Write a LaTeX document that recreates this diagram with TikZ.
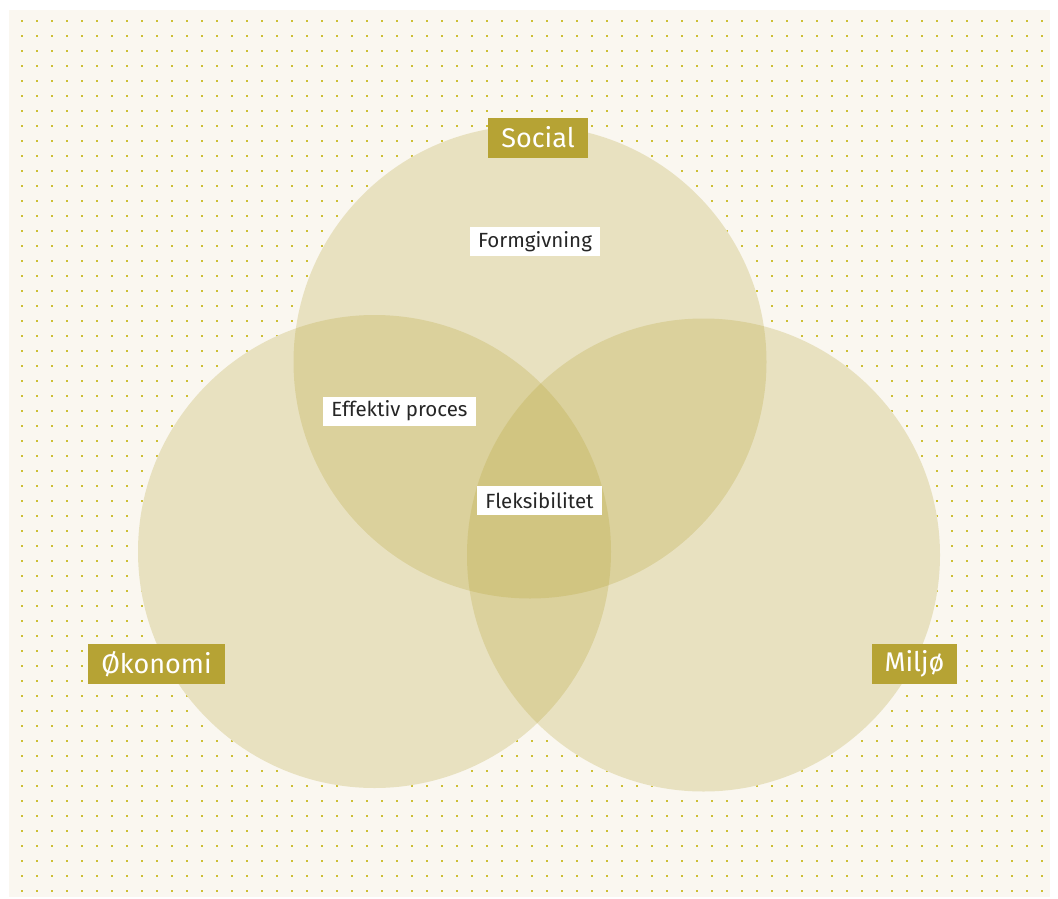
\documentclass[tikz,border=0pt]{standalone}
\usepackage{fontspec}
\setmainfont{Fira Sans}
\usepackage{tikz}
\usetikzlibrary{positioning}
\definecolor{paper}{HTML}{FAF7F0}
\definecolor{olive}{HTML}{B6A334}
\definecolor{dotcol}{HTML}{CDBF35}
\tikzset{venn/.style={
    circle,
    minimum size=473pt,
    inner sep=0pt
  },
  pillar/.style={
    fill=olive,
    text=white,
    font=\fontsize{27}{30}\selectfont,
    minimum height=40pt,
    inner xsep=13pt,
    inner ysep=0pt
  },
  tag/.style={
    fill=white,
    text=black!85,
    font=\fontsize{20.5}{22}\selectfont,
    minimum height=29pt,
    inner xsep=8pt,
    inner ysep=0pt
  }
}

\begin{document}
\begin{tikzpicture}[x=1pt,y=-1pt]
    \useasboundingbox (0,0) rectangle (1058,899);
    \fill[paper] (9,10) rectangle (1050,897);
    % dot grid
    \foreach \i in {0,...,68}
        \foreach \j in {0,...,58}
            \fill[dotcol] ({22+15*\i-1.2},{21+15*\j-1.2}) rectangle ++(2.4,2.4);
    % the three circles
    \node[venn] (social) at (530,362) {};
    \node[venn] (okonomi) at (374.5,551.5) {};
    \node[venn] (miljo) at (703.5,555) {};
    \foreach \c in {social,okonomi,miljo}
        \fill[paper] (\c.center) circle (236.5);
    \foreach \c in {social,okonomi,miljo}
        \fill[olive, fill opacity=0.25] (\c.center) circle (236.5);
    % labels
    \node[pillar] (socialtag) at (538,137.5) {Social};
    \node[pillar] (okonomitag) at (156.5,664) {Økonomi};
    \node[pillar] (miljotag) at (914.5,664) {Miljø};
    \node[tag] (form) at (535,241.5) {Formgivning};
    \node[tag] (proces) at (399.5,411) {Effektiv proces};
    \node[tag] (fleks) at (539.5,500.5) {Fleksibilitet};
\end{tikzpicture}
\end{document}
